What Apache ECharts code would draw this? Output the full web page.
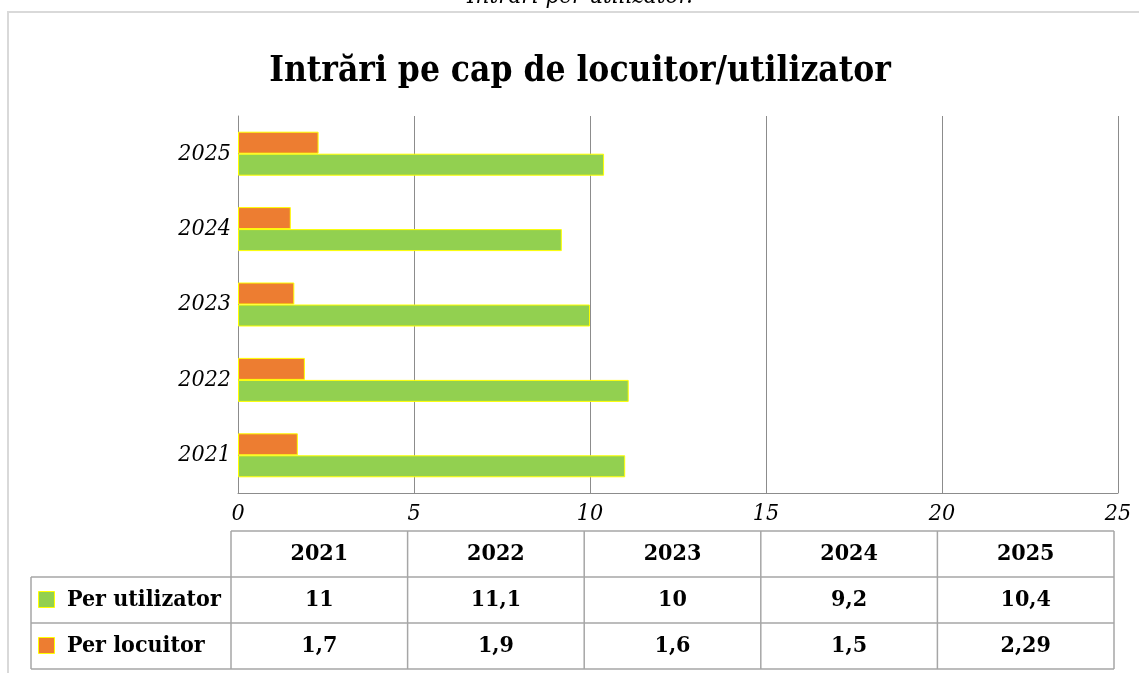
<!DOCTYPE html>
<html>
<head>
<meta charset="utf-8">
<script src="https://cdn.jsdelivr.net/npm/echarts@6/dist/echarts.min.js"></script>
<style>
  html, body { margin: 0; padding: 0; background: #fff; }
  #main { width: 1139px; height: 673px; }
</style>
</head>
<body>
<div id="main"></div>
<script>
// date
const years = ['2021', '2022', '2023', '2024', '2025']
const perUtilizator = [11, 11.1, 10, 9.2, 10.4]
const perLocuitor = [1.7, 1.9, 1.6, 1.5, 2.29]
const perUtilizatorText = ['11', '11,1', '10', '9,2', '10,4']
const perLocuitorText = ['1,7', '1,9', '1,6', '1,5', '2,29']

const FONT = "'DejaVu Serif Condensed', 'DejaVu Serif', serif"
const GREEN = '#92D050'
const ORANGE = '#ED7D31'
const GRID_COLOR = '#8c8c8c'
const TABLE_COLOR = '#a6a6a6'

const chart = echarts.init(document.getElementById('main'))

// tabelul de date de sub grafic
function buildTable() {
  const els = []
  const colLeft = 231
  const colW = 176.6
  const rowTop = 531
  const rowH = 46
  const labelLeft = 31
  const right = colLeft + colW * years.length
  const line = (x1, y1, x2, y2) => ({
    type: 'line',
    shape: { x1, y1, x2, y2 },
    style: { stroke: TABLE_COLOR, lineWidth: 1.5 }
  })
  const cellText = (x, y, text, align) => ({
    type: 'text',
    x, y,
    style: {
      text, fill: '#000', font: 'bold 23px ' + FONT,
      align: align || 'center', verticalAlign: 'middle'
    }
  })

  // linii orizontale
  els.push(line(colLeft, rowTop, right, rowTop))
  els.push(line(labelLeft, rowTop + rowH, right, rowTop + rowH))
  els.push(line(labelLeft, rowTop + rowH * 2, right, rowTop + rowH * 2))
  els.push(line(labelLeft, rowTop + rowH * 3, right, rowTop + rowH * 3))
  // linii verticale
  els.push(line(labelLeft, rowTop + rowH, labelLeft, rowTop + rowH * 3))
  for (let i = 0; i <= years.length; i++) {
    const x = colLeft + colW * i
    els.push(line(x, rowTop, x, rowTop + rowH * 3))
  }

  for (let i = 0; i < years.length; i++) {
    const cx = colLeft + colW * (i + 0.5)
    els.push(cellText(cx, rowTop + rowH * 0.5, years[i]))
    els.push(cellText(cx, rowTop + rowH * 1.5, perUtilizatorText[i]))
    els.push(cellText(cx, rowTop + rowH * 2.5, perLocuitorText[i]))
  }

  const rows = [
    { name: 'Per utilizator', color: GREEN },
    { name: 'Per locuitor', color: ORANGE }
  ]
  rows.forEach((r, k) => {
    const cy = rowTop + rowH * (1.5 + k)
    els.push({
      type: 'rect',
      shape: { x: 38.5, y: cy - 8.5, width: 16, height: 16 },
      style: { fill: r.color, stroke: '#FFFF00', lineWidth: 1 }
    })
    els.push(cellText(67, cy, r.name, 'left'))
  })
  return els
}

const option = {
  backgroundColor: '#fff',
  animation: false,
  grid: {
    left: 238,
    right: 21,
    top: 116,
    bottom: 180,
    containLabel: false
  },
  xAxis: {
    type: 'value',
    min: 0,
    max: 25,
    interval: 5,
    axisLine: { show: true, lineStyle: { color: GRID_COLOR, width: 1 } },
    axisTick: { show: false },
    splitLine: { show: true, lineStyle: { color: GRID_COLOR, width: 1 } },
    axisLabel: {
      color: '#000',
      fontFamily: FONT,
      fontStyle: 'italic',
      fontSize: 23,
      margin: 10
    }
  },
  yAxis: {
    type: 'category',
    data: years,
    axisLine: { show: true, lineStyle: { color: GRID_COLOR, width: 1 } },
    axisTick: { show: false },
    axisLabel: {
      color: '#000',
      fontFamily: FONT,
      fontStyle: 'italic',
      fontSize: 23,
      margin: 7
    }
  },
  series: [
    {
      name: 'Per locuitor',
      type: 'bar',
      data: perLocuitor,
      barWidth: 22,
      barGap: '0%',
      itemStyle: { color: ORANGE, borderColor: '#FFFF00', borderWidth: 1 }
    },
    {
      name: 'Per utilizator',
      type: 'bar',
      data: perUtilizator,
      barWidth: 22,
      barGap: '0%',
      itemStyle: { color: GREEN, borderColor: '#FFFF00', borderWidth: 1 }
    }
  ],
  graphic: [
    {
      type: 'rect',
      shape: { x: 8, y: 12, width: 1200, height: 720 },
      style: { fill: 'none', stroke: '#d9d9d9', lineWidth: 2 },
      silent: true
    },
    {
      type: 'text',
      x: 580,
      y: 9,
      style: {
        text: 'Intrări per utilizator.',
        fill: '#000',
        font: 'italic 24px ' + FONT,
        align: 'center',
        verticalAlign: 'bottom'
      }
    },
    {
      type: 'text',
      x: 580,
      y: 72,
      style: {
        text: 'Intrări pe cap de locuitor/utilizator',
        fill: '#000',
        font: 'bold 35px ' + FONT,
        align: 'center',
        verticalAlign: 'middle'
      }
    }
  ].concat(buildTable())
}

chart.setOption(option)
</script>
</body>
</html>
